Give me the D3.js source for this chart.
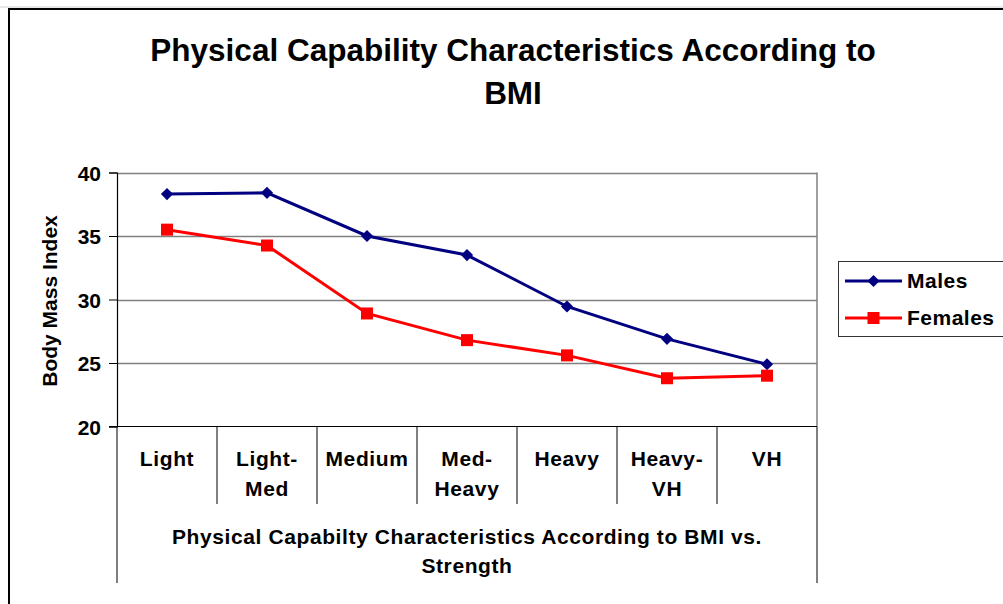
<!DOCTYPE html>
<html><head><meta charset="utf-8">
<script src="https://cdn.jsdelivr.net/npm/d3@7"></script>
<style>body{margin:0;background:#fff}svg{display:block}text{font-family:"Liberation Sans",Arial,sans-serif;font-weight:bold}</style>
</head><body>
<svg id="c" width="1003" height="604"></svg>
<script>
const categories = [["Light"],["Light-","Med"],["Medium"],["Med-","Heavy"],["Heavy"],["Heavy-","VH"],["VH"]];
const males = [38.3, 38.4, 35.0, 33.5, 29.45, 26.9, 24.9];
const females = [35.5, 34.25, 28.9, 26.8, 25.6, 23.8, 24.0];
const yTicks = [20, 25, 30, 35, 40];
const seriesNames = ["Males", "Females"];
const seriesColors = ["#000080", "#ff0000"];

const svg = d3.select("#c");
const L = 117, R = 817, T = 172.5, B = 426.5;
const x = d3.scaleBand().domain(d3.range(categories.length)).range([L, R]);
const y = d3.scaleLinear().domain([20, 40]).range([B, T]);

// outer border
svg.append("line").attr("x1",0).attr("x2",1003).attr("y1",7).attr("y2",7).attr("stroke","#d0d0d0");
svg.append("rect").attr("x",9).attr("y",9).attr("width",1010).attr("height",620).attr("fill","none").attr("stroke","#000").attr("stroke-width",2);

// title
const title = svg.append("text").attr("text-anchor","middle").attr("font-size",31.5).attr("fill","#000");
title.append("tspan").attr("x",513).attr("y",61).text("Physical Capability Characteristics According to");
title.append("tspan").attr("x",513).attr("y",104).text("BMI");

// gridlines
svg.append("g").selectAll("line").data(yTicks.filter(d=>d>20)).join("line")
  .attr("x1",L).attr("x2",R).attr("y1",d=>Math.round(y(d))+0.5).attr("y2",d=>Math.round(y(d))+0.5)
  .attr("stroke","#808080").attr("stroke-width",1.5);
// right border
svg.append("line").attr("x1",R).attr("x2",R).attr("y1",T).attr("y2",B).attr("stroke","#808080").attr("stroke-width",1.5);

// y axis
const yAxis = d3.axisLeft(y).tickValues(yTicks).tickSize(8).tickPadding(8);
const gy = svg.append("g").attr("transform",`translate(${L},0)`).call(yAxis);
gy.select(".domain").attr("stroke","#000").attr("stroke-width",1.2);
gy.selectAll(".tick line").attr("stroke","#000");
gy.selectAll("text").attr("font-size",21).attr("font-family","Liberation Sans, Arial").attr("font-weight","bold").attr("fill","#000").attr("dy","0.36em");

svg.append("text").attr("transform","translate(57,301) rotate(-90)").attr("text-anchor","middle")
  .attr("font-size",21).text("Body Mass Index");

// x axis line
svg.append("line").attr("x1",L-8).attr("x2",R).attr("y1",B).attr("y2",B).attr("stroke","#000").attr("stroke-width",1.2);
// category separators
const seps = d3.range(categories.length+1);
svg.append("g").selectAll("line").data(seps).join("line")
  .attr("x1",i=>i===categories.length?R:x(i)).attr("x2",i=>i===categories.length?R:x(i))
  .attr("y1",B).attr("y2",i=>(i===0||i===categories.length)?583:504)
  .attr("stroke","#000").attr("stroke-width",1);

// category labels
const cl = svg.append("g").selectAll("text").data(categories).join("text")
  .attr("text-anchor","middle").attr("font-size",21).attr("letter-spacing",0.6).attr("fill","#000");
cl.each(function(lines,i){
  const t = d3.select(this);
  lines.forEach((s,j)=>t.append("tspan").attr("x",x(i)+x.bandwidth()/2).attr("y",466+j*29.5).text(s));
});

// x title
const xt = svg.append("text").attr("text-anchor","middle").attr("font-size",21).attr("letter-spacing",0.6).attr("fill","#000");
xt.append("tspan").attr("x",467).attr("y",543.5).text("Physical Capabilty Characteristics According to BMI vs.");
xt.append("tspan").attr("x",467).attr("y",573).text("Strength");

// lines
const cx = i => x(i)+x.bandwidth()/2;
const line = d3.line().x((d,i)=>cx(i)).y(d=>y(d));
const data = [males, females];
data.forEach((vals,k)=>{
  svg.append("path").datum(vals).attr("d",line).attr("fill","none").attr("stroke",seriesColors[k]).attr("stroke-width",3);
});
// markers
const diamond = d3.symbol(d3.symbolSquare, 74);
svg.append("g").selectAll("path").data(males).join("path")
  .attr("transform",(d,i)=>`translate(${cx(i)},${y(d)}) rotate(45)`)
  .attr("d",diamond).attr("fill",seriesColors[0]);
svg.append("g").selectAll("rect").data(females).join("rect")
  .attr("x",(d,i)=>cx(i)-6).attr("y",d=>y(d)-6).attr("width",12).attr("height",12).attr("fill",seriesColors[1]);

// legend
svg.append("rect").attr("x",838.5).attr("y",261.5).attr("width",200).attr("height",75).attr("fill","#fff").attr("stroke","#333").attr("stroke-width",1);
seriesNames.forEach((n,k)=>{
  const yy = 281 + k*37;
  svg.append("line").attr("x1",845).attr("x2",902).attr("y1",yy).attr("y2",yy).attr("stroke",seriesColors[k]).attr("stroke-width",3);
  if(k===0){
    svg.append("path").attr("transform",`translate(873.5,${yy}) rotate(45)`).attr("d",diamond).attr("fill",seriesColors[0]);
  } else {
    svg.append("rect").attr("x",867.5).attr("y",yy-6).attr("width",12).attr("height",12).attr("fill",seriesColors[1]);
  }
  svg.append("text").attr("x",907).attr("y",yy+7).attr("font-size",21).attr("letter-spacing",0.5).attr("fill","#000").text(n);
});
</script>
</body></html>
